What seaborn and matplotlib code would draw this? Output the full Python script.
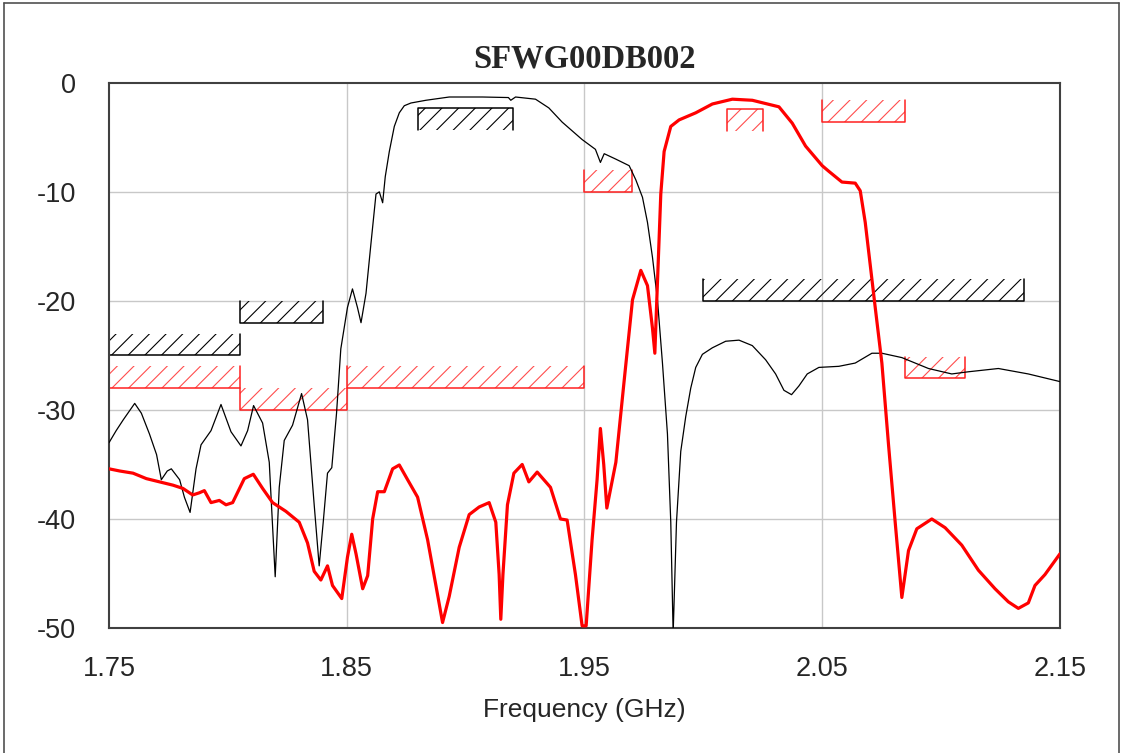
import numpy as np
import pandas as pd
import matplotlib
matplotlib.use("Agg")
import matplotlib.pyplot as plt
import seaborn as sns
from matplotlib.lines import Line2D

# Curva preta (Tx) - frequência em GHz, nível em dB
black_freq = [1.750, 1.753, 1.756, 1.7608, 1.7636, 1.767, 1.770, 1.772, 1.7745, 1.7762,
              1.7797, 1.7817, 1.7841, 1.7866, 1.7887, 1.7929, 1.7971, 1.8013, 1.8055, 1.8083,
              1.8108, 1.8146, 1.8174, 1.8199, 1.8216, 1.8237, 1.8272, 1.831, 1.8335, 1.8363,
              1.8384, 1.8401, 1.8419, 1.8437, 1.8457, 1.8475, 1.8503, 1.8524, 1.8545, 1.856,
              1.8581, 1.8602, 1.8623, 1.8637, 1.8651, 1.8662, 1.8679, 1.870, 1.8721, 1.8742,
              1.877, 1.8833, 1.8931, 1.9071, 1.918, 1.919, 1.921, 1.9294, 1.935, 1.9406,
              1.949, 1.9546, 1.9567, 1.9583, 1.9632, 1.9688, 1.9716, 1.9744, 1.9765, 1.9786,
              1.9807, 1.9828, 1.9849, 1.9863, 1.9873, 1.9887, 1.9905, 1.9926, 1.9947, 1.9968,
              1.9996, 2.0038, 2.0094, 2.015, 2.0206, 2.0262, 2.0304, 2.0339, 2.0371, 2.0402,
              2.0437, 2.0486, 2.057, 2.0639, 2.0709, 2.0751, 2.0835, 2.0947, 2.1045, 2.1115,
              2.1241, 2.1367, 2.150]
black_db = [-33.0, -31.9, -30.9, -29.4, -30.3, -32.2, -34.1, -36.4, -35.6, -35.4,
            -36.4, -38.0, -39.4, -35.4, -33.2, -31.9, -29.5, -32.0, -33.3, -31.9,
            -29.6, -31.2, -34.8, -45.3, -37.1, -32.8, -31.4, -28.5, -30.9, -38.7,
            -44.3, -40.3, -35.8, -35.3, -30.3, -24.4, -20.6, -18.9, -20.6, -22.0,
            -19.3, -14.7, -10.2, -10.0, -11.0, -8.6, -6.3, -4.0, -2.75, -2.1,
            -1.85, -1.6, -1.3, -1.3, -1.35, -1.6, -1.3, -1.5, -2.3, -3.6,
            -5.2, -6.1, -7.3, -6.5, -7.0, -7.6, -8.9, -10.5, -12.8, -16.0,
            -19.9, -25.7, -32.2, -40.3, -50.5, -40.3, -33.8, -30.6, -28.0, -26.1,
            -24.9, -24.3, -23.7, -23.6, -24.1, -25.4, -26.7, -28.2, -28.6, -27.8,
            -26.7, -26.1, -26.0, -25.7, -24.8, -24.8, -25.2, -26.2, -26.7, -26.5,
            -26.2, -26.7, -27.4]

# Curva vermelha (Rx)
red_freq = [1.750, 1.7545, 1.7601, 1.7657, 1.7713, 1.7769, 1.7811, 1.7852, 1.788, 1.7901,
            1.7929, 1.7964, 1.7992, 1.802, 1.8069, 1.8107, 1.8146, 1.8188, 1.8244, 1.830,
            1.8335, 1.8363, 1.8391, 1.8419, 1.844, 1.8479, 1.8503, 1.8521, 1.8539, 1.8567,
            1.8588, 1.8609, 1.863, 1.8658, 1.8693, 1.8721, 1.8756, 1.8798, 1.884, 1.8875,
            1.8903, 1.8931, 1.8973, 1.9015, 1.9057, 1.9099, 1.9127, 1.9141, 1.9148, 1.9157,
            1.9176, 1.9203, 1.9238, 1.9266, 1.9301, 1.9357, 1.9399, 1.9427, 1.9462, 1.949,
            1.9507, 1.9532, 1.9553, 1.9567, 1.9581, 1.9594, 1.9632, 1.9667, 1.9702, 1.9737,
            1.9765, 1.9786, 1.9796, 1.9803, 1.9811, 1.9821, 1.9835, 1.9863, 1.9898, 1.9968,
            2.0038, 2.0122, 2.0206, 2.0318, 2.0374, 2.043, 2.050, 2.0527, 2.0583, 2.0639,
            2.066, 2.0681, 2.0702, 2.0723, 2.0751, 2.0779, 2.0807, 2.0835, 2.0863, 2.0898,
            2.0961, 2.1017, 2.1087, 2.1157, 2.1227, 2.1283, 2.1325, 2.1367, 2.1395, 2.1437,
            2.150]
red_db = [-35.4, -35.6, -35.8, -36.3, -36.6, -36.9, -37.2, -37.8, -37.6, -37.4,
          -38.5, -38.3, -38.7, -38.5, -36.3, -35.9, -37.2, -38.5, -39.3, -40.3,
          -42.2, -44.8, -45.6, -44.3, -46.1, -47.3, -43.5, -41.4, -43.2, -46.4,
          -45.2, -40.0, -37.5, -37.5, -35.4, -35.05, -36.4, -38.0, -41.9, -46.1,
          -49.5, -47.1, -42.6, -39.6, -38.9, -38.5, -40.3, -45.1, -49.2, -45.1,
          -38.7, -35.8, -35.0, -36.6, -35.7, -37.1, -40.0, -40.1, -45.1, -49.8,
          -49.8, -41.9, -36.4, -31.7, -35.0, -39.0, -34.8, -27.3, -19.9, -17.2,
          -18.6, -22.5, -24.8, -20.6, -16.0, -10.2, -6.3, -4.0, -3.4, -2.75,
          -1.94, -1.5, -1.6, -2.2, -3.7, -5.8, -7.6, -8.1, -9.1, -9.2,
          -9.9, -12.8, -16.7, -20.6, -25.7, -33.2, -40.3, -47.2, -42.9, -40.9,
          -40.0, -40.8, -42.4, -44.7, -46.4, -47.6, -48.2, -47.7, -46.1, -45.1,
          -43.2]

# Máscaras de especificação: início, fim, nível (dB), sentido da hachura (+1 acima, -1 abaixo)
mask_start = [1.750, 1.805, 1.880, 2.000, 1.750, 1.805, 1.850, 1.950, 2.010, 2.050, 2.085]
mask_stop = [1.805, 1.840, 1.920, 2.135, 1.805, 1.850, 1.950, 1.970, 2.025, 2.085, 2.110]
mask_level = [-25.0, -22.0, -2.35, -20.0, -28.0, -30.0, -28.0, -10.0, -2.4, -3.55, -27.1]
mask_side = [1, 1, -1, 1, 1, 1, 1, 1, -1, 1, 1]
mask_trace = ["black", "black", "black", "black", "red", "red", "red", "red", "red", "red", "red"]

x_ticks = [1.75, 1.85, 1.95, 2.05, 2.15]
y_ticks = [0, -10, -20, -30, -40, -50]

sns.set_style("white")
plt.rcParams["font.family"] = ["Liberation Sans", "DejaVu Sans"]
plt.rcParams["axes.unicode_minus"] = False
plt.rcParams["hatch.linewidth"] = 0.8

fig = plt.figure(figsize=(11.24, 7.53), dpi=100)
ax = fig.add_axes([0.097, 0.166, 0.846, 0.724])

# Grelha
for gx in [1.85, 1.95, 2.05]:
    ax.axvline(gx, color="#c8c8c8", linewidth=1.0, zorder=0)
for gy in [-10, -20, -30, -40]:
    ax.axhline(gy, color="#c8c8c8", linewidth=1.0, zorder=0)

# Máscaras com hachura
mask_colors = {"black": "#000000", "red": "#ff2020"}
for f0, f1, lvl, side, tr in zip(mask_start, mask_stop, mask_level, mask_side, mask_trace):
    col = mask_colors[tr]
    far = lvl + 2.0 * side
    ax.fill_between([f0, f1], [lvl, lvl], [far, far], facecolor="none",
                    edgecolor=col, hatch="//", linewidth=0,
                    alpha=0.8 if tr == "red" else 1, zorder=1)
    ax.plot([f0, f0, f1, f1], [far, lvl, lvl, far], color=col, linewidth=1.1, zorder=2)

df_black = pd.DataFrame({"freq": black_freq, "db": black_db})
df_red = pd.DataFrame({"freq": red_freq, "db": red_db})
sns.lineplot(data=df_black, x="freq", y="db", color="black", linewidth=0.9,
             estimator=None, sort=False, ax=ax, zorder=3)
sns.lineplot(data=df_red, x="freq", y="db", color="#ff0000", linewidth=2.3,
             estimator=None, sort=False, ax=ax, zorder=4)

ax.set_xlim(1.75, 2.15)
ax.set_ylim(-50, 0)
ax.set_xticks(x_ticks)
ax.set_xticklabels([f"{t:.2f}" for t in x_ticks])
ax.set_yticks(y_ticks)
ax.set_yticklabels([str(t) for t in y_ticks])
ax.tick_params(axis="both", length=0, labelsize=19.5)
ax.tick_params(axis="x", pad=20)
ax.tick_params(axis="y", pad=24)
ax.set_ylabel("")
ax.set_xlabel("Frequency (GHz)", fontsize=19, labelpad=12)
ax.set_title("SFWG00DB002", fontsize=23.5, fontweight="bold",
             family=["Liberation Serif", "DejaVu Serif"], pad=11)
for sp in ax.spines.values():
    sp.set_color("#404040")
    sp.set_linewidth(1.5)

# Moldura exterior da figura
W, H = 1124, 753
fig.add_artist(Line2D([4 / W, 4 / W], [0, 1 - 3 / H], color="#505050", linewidth=1.2))
fig.add_artist(Line2D([4 / W, 1119 / W], [1 - 3 / H, 1 - 3 / H], color="#505050", linewidth=1.2))
fig.add_artist(Line2D([1119 / W, 1119 / W], [0, 1 - 3 / H], color="#505050", linewidth=1.2))

fig.savefig("out.png", dpi=100)
